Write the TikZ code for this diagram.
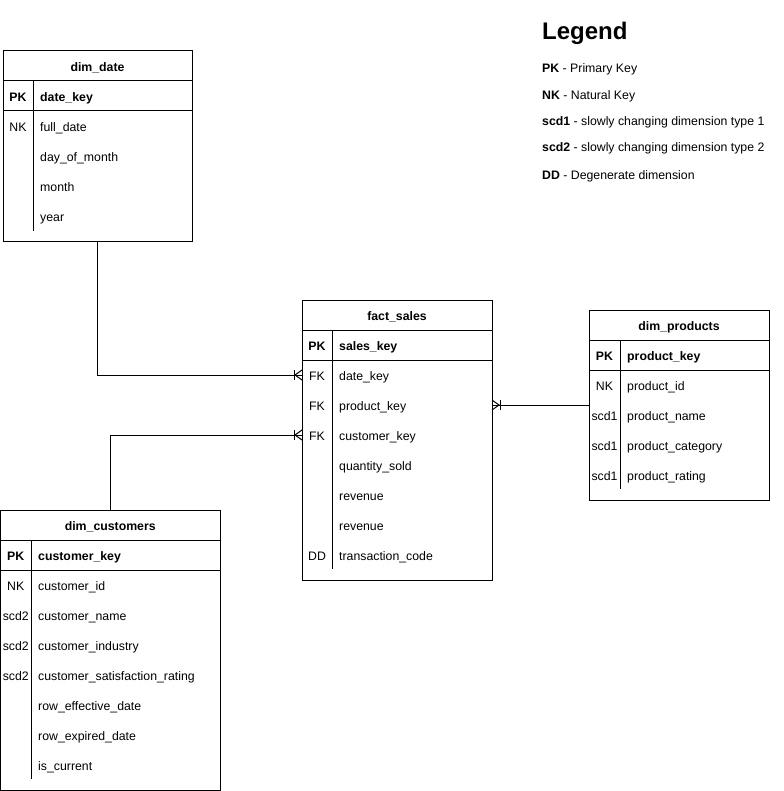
\documentclass[tikz,border=0pt]{standalone}
\usepackage{fontspec}
\setmainfont{Liberation Sans}
\usetikzlibrary{calc}

% One entity table: name, left x, top y, width, height, key column width,
% title, primary key field, list of key/field rows
\newcommand\ertable[9]{%
  \node[tbox, minimum width=#4pt, minimum height=#5pt, anchor=north west] (#1) at (#2,#3) {};
  \node[titletxt] (#1-title) at (#2+#4/2,#3+20.2) {#7};
  \draw[rule] (#2,#3+30) -- (#2+#4,#3+30);
  \draw[rule] (#2,#3+60) -- (#2+#4,#3+60);
  \draw[rule] (#2+#6,#3+30) -- (#2+#6,#3+#5-11);
  \coordinate (#1-r0) at (#2,#3+45);
  \node[keytxt, font=\tabfont\bfseries] (#1-k0) at (#2+#6/2,#3+50.2) {PK};
  \node[fieldtxt, font=\tabfont\bfseries] (#1-f0) at (#2+#6+7,#3+50.2) {#8};
  \foreach \k/\f [count=\i] in {#9} {
    \coordinate (#1-r\i) at (#2,#3+45+30*\i);
    \node[keytxt] (#1-k\i) at (#2+#6/2,#3+50.2+30*\i) {\k};
    \node[fieldtxt] (#1-f\i) at (#2+#6+7,#3+50.2+30*\i) {\f};
  }%
}
\newcommand\tabfont{\fontsize{12.3}{14}\selectfont}

\begin{document}
\begin{tikzpicture}[x=1pt, y=-1pt,
  tbox/.style={draw, line width=1pt, inner sep=0pt, outer sep=0pt},
  rule/.style={line width=1pt},
  conn/.style={line width=1pt},
  titletxt/.style={font=\tabfont\bfseries, inner sep=0pt, anchor=base},
  keytxt/.style={font=\tabfont, inner sep=0pt, anchor=base},
  fieldtxt/.style={font=\tabfont, inner sep=0pt, anchor=base west},
  legtxt/.style={font=\tabfont, inner sep=0pt, anchor=base west},
  crowfoot/.pic={
    \draw[conn] (-8,-5) -- (-8,5);
    \draw[conn] (0,-5) -- (-7,0) -- (0,5);
  }]

\fill[white] (0,0) rectangle (783,791);
\useasboundingbox (0,0) rectangle (783,791);

% Tables
\ertable{date}{3}{51}{189}{191}{30}{dim\_date}{date\_key}
  {NK/full\_date, /day\_of\_month, /month, /year}

\ertable{fact}{302}{300}{190}{280}{30}{fact\_sales}{sales\_key}
  {FK/date\_key, FK/product\_key, FK/customer\_key, /quantity\_sold,
   /revenue, /revenue, DD/transaction\_code}

\ertable{prod}{589}{310}{180}{190}{31}{dim\_products}{product\_key}
  {NK/product\_id, scd1/product\_name, scd1/product\_category, scd1/product\_rating}

\ertable{cust}{0.5}{510}{219.5}{280}{30.5}{dim\_customers}{customer\_key}
  {NK/customer\_id, scd2/customer\_name, scd2/customer\_industry,
   scd2/customer\_satisfaction\_rating, /row\_effective\_date,
   /row\_expired\_date, /is\_current}

% Relationships (one-to-many into the fact table)
\coordinate (fact-out2) at (fact.east |- fact-r2);
\draw[conn] (date.south) |- (fact-r1);
\draw[conn] (cust.north) |- (fact-r3);
\draw[conn] (prod.west) -- (fact-out2);
\pic at (fact-r1) {crowfoot};
\pic at (fact-r3) {crowfoot};
\pic[rotate=180] at (fact-out2) {crowfoot};

% Legend
\node[anchor=base west, inner sep=0pt, font=\fontsize{24}{28}\selectfont\bfseries] (legend) at (542,40) {Legend};
\node[legtxt] (leg-pk) at (542,73) {\textbf{PK} - Primary Key};
\node[legtxt] (leg-nk) at (542,100) {\textbf{NK} - Natural Key};
\node[legtxt] (leg-s1) at (542,126) {\textbf{scd1} - slowly changing dimension type 1};
\node[legtxt] (leg-s2) at (542,152) {\textbf{scd2} - slowly changing dimension type 2};
\node[legtxt] (leg-dd) at (542,180) {\textbf{DD} - Degenerate dimension};

\end{tikzpicture}
\end{document}
